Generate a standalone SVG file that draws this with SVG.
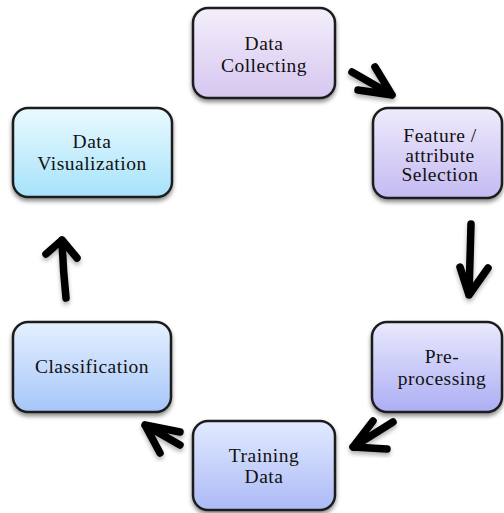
<svg xmlns="http://www.w3.org/2000/svg" width="504" height="513" viewBox="0 0 504 513">
<defs>
<filter id="sh" x="-20%" y="-20%" width="140%" height="150%">
<feDropShadow dx="0" dy="3" stdDeviation="2" flood-color="#000" flood-opacity="0.45"/>
</filter>
<filter id="ash" x="-30%" y="-30%" width="160%" height="160%">
<feDropShadow dx="0" dy="3" stdDeviation="2" flood-color="#000" flood-opacity="0.3"/>
</filter>
<linearGradient id="g1" x1="0" y1="0" x2="0" y2="1"><stop offset="0" stop-color="#f4effb"/><stop offset="1" stop-color="#d6c6f0"/></linearGradient>
<linearGradient id="g2" x1="0" y1="0" x2="0" y2="1"><stop offset="0" stop-color="#efebfc"/><stop offset="1" stop-color="#c4baf2"/></linearGradient>
<linearGradient id="g3" x1="0" y1="0" x2="0" y2="1"><stop offset="0" stop-color="#eafaff"/><stop offset="1" stop-color="#a6e2fa"/></linearGradient>
<linearGradient id="g4" x1="0" y1="0" x2="0" y2="1"><stop offset="0" stop-color="#e9e9fc"/><stop offset="1" stop-color="#acaef4"/></linearGradient>
<linearGradient id="g5" x1="0" y1="0" x2="0" y2="1"><stop offset="0" stop-color="#e4f0ff"/><stop offset="1" stop-color="#a6c6f8"/></linearGradient>
<linearGradient id="g6" x1="0" y1="0" x2="0" y2="1"><stop offset="0" stop-color="#e2eaff"/><stop offset="1" stop-color="#acbaf6"/></linearGradient>
</defs>
<style>
.box{stroke:#1e1e1e;stroke-width:2.5;filter:url(#sh)}
.t{font-size:19.5px;letter-spacing:0.5px;fill:#111;text-anchor:middle}
.arr{fill:none;stroke:#000;stroke-width:7.5;stroke-linecap:round;stroke-linejoin:round;filter:url(#ash)}
</style>
<g id="connectors">
<path class="arr" d="M352,72 L392,95 M375,67 L392,95 L358,90"/>
<path class="arr" d="M471,224 Q470,260 469,295 M460,267 L469,295 L488,268"/>
<path class="arr" d="M393,422 L353,447 M373,421 L353,447 L387,449"/>
<path class="arr" d="M180,445 L145,425 M180,432 L145,425 L160,453"/>
<path class="arr" d="M66,298 Q63,270 62,240 M46,254 L62,240 L77,258"/>
</g>
<g font-family="'Liberation Serif', 'Times New Roman', Times, serif">
<g id="n1"><rect class="box" x="193" y="8" width="142" height="90" rx="15" fill="url(#g1)"/>
<text class="t" x="264" y="50">Data</text><text class="t" x="264" y="72">Collecting</text></g>
<g id="n2"><rect class="box" x="373" y="108" width="129" height="90" rx="15" fill="url(#g2)"/>
<text class="t" x="440" y="142">Feature /</text><text class="t" x="440" y="161.5">attribute</text><text class="t" x="440" y="181">Selection</text></g>
<g id="n3"><rect class="box" x="372" y="322" width="130" height="90" rx="15" fill="url(#g4)"/>
<text class="t" x="442" y="363">Pre-</text><text class="t" x="442" y="385">processing</text></g>
<g id="n4"><rect class="box" x="193" y="421" width="142" height="89" rx="15" fill="url(#g6)"/>
<text class="t" x="264" y="462">Training</text><text class="t" x="264" y="483">Data</text></g>
<g id="n5"><rect class="box" x="13" y="322" width="158" height="90" rx="15" fill="url(#g5)"/>
<text class="t" x="92" y="373">Classification</text></g>
<g id="n6"><rect class="box" x="13" y="108" width="159" height="89" rx="15" fill="url(#g3)"/>
<text class="t" x="92" y="148">Data</text><text class="t" x="92" y="170">Visualization</text></g>
</g>
</svg>
